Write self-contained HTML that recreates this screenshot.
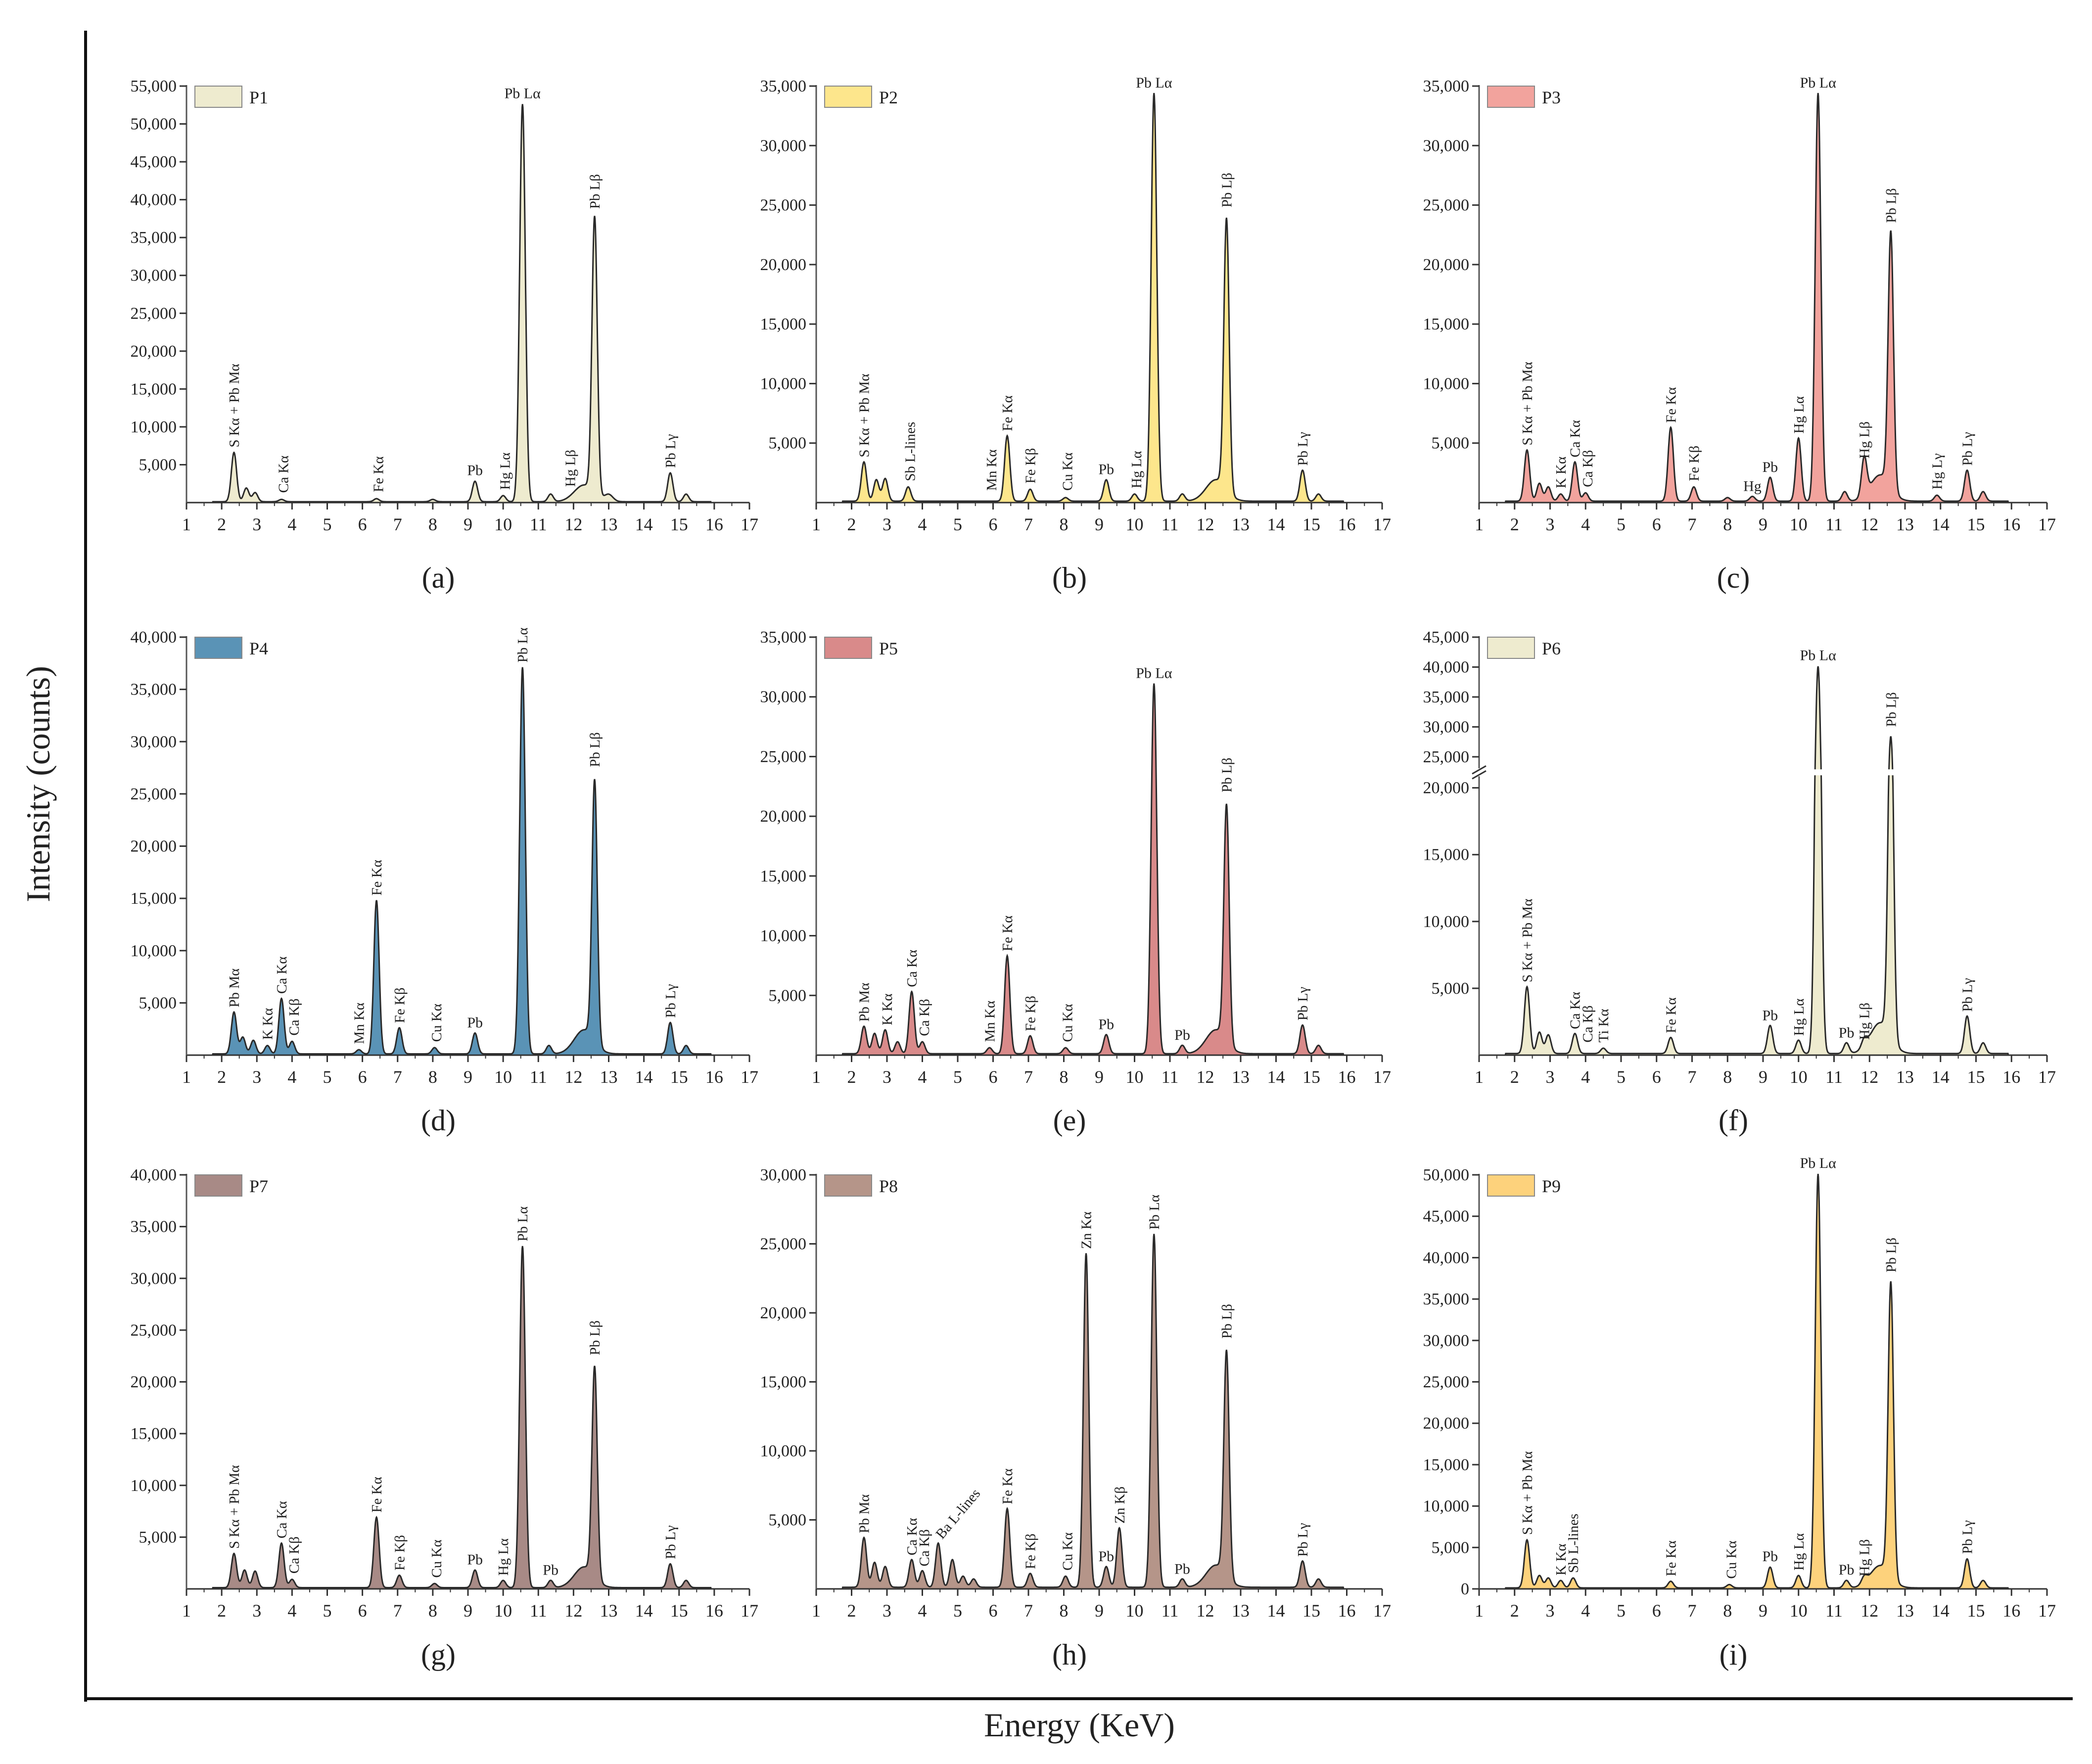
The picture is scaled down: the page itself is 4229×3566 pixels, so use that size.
<!DOCTYPE html>
<html><head><meta charset="utf-8"><style>
html,body{margin:0;padding:0;background:#fff}
svg{display:block}
text{font-family:"Liberation Serif","DejaVu Serif",serif;fill:#222}
</style></head><body>
<svg id="fig" width="4229" height="3566" viewBox="0 0 4229 3566" xmlns="http://www.w3.org/2000/svg" font-family="Liberation Serif, serif">
<rect width="4229" height="3566" fill="#fff"/>
<line x1="173" y1="62" x2="173" y2="3440" stroke="#111" stroke-width="6"/>
<line x1="170" y1="3434" x2="4190" y2="3434" stroke="#111" stroke-width="6"/>
<text transform="translate(100,1585) rotate(-90)" text-anchor="middle" font-size="68" font-family="Liberation Serif, serif">Intensity (counts)</text>
<text x="2182" y="3510" text-anchor="middle" font-size="68" font-family="Liberation Serif, serif">Energy (KeV)</text>
<g id="panels" font-family="Liberation Serif, serif"></g>
</svg>
<script>
// peaks: [energy keV, counts, optional sigma]
const peaksP1=[[2.35,6500],[2.7,1800],[2.95,1200],[3.7,300],[6.4,400],[8.0,300],[9.2,2700],[10.0,800],[10.55,52500,0.08],[11.35,1000],[12.3,2200,0.28],[12.6,36500],[13.0,900,0.12],[14.75,3800],[15.2,1000]];
const peaksP2=[[2.35,3300],[2.7,1800],[2.95,1900],[3.6,1200],[6.4,5500],[7.05,1000],[8.05,300],[9.2,1800],[10.0,600],[10.55,34300,0.08],[11.35,600],[12.3,1800,0.28],[12.6,22800],[14.75,2600],[15.2,600]];
const peaksP3=[[2.35,4300],[2.7,1500],[2.95,1200],[3.3,600],[3.7,3300],[4.0,700],[6.4,6200],[7.05,1200],[8.0,300],[8.7,400],[9.2,2000],[10.0,5300],[10.55,34300,0.08],[11.3,800],[11.85,3200],[12.3,2200,0.28],[12.6,21500],[13.9,500],[14.75,2600],[15.2,800]];
const peaksP4=[[2.35,4000],[2.6,1600],[2.9,1300],[3.3,800],[3.7,5300],[4.0,1200],[5.9,400],[6.4,14700],[7.05,2500],[8.05,600],[9.2,2000],[10.55,37000,0.08],[11.3,800],[12.3,2300,0.28],[12.6,25000],[14.75,3000],[15.2,800]];
const peaksP5=[[2.35,2300],[2.65,1700],[2.95,2000],[3.3,1000],[3.7,5200],[4.0,1000],[5.9,500],[6.4,8200],[7.05,1500],[8.05,500],[9.2,1600],[10.55,31000,0.08],[11.35,700],[12.3,2000,0.28],[12.6,19800],[14.75,2400],[15.2,700]];
const peaksP6=[[2.35,5000],[2.7,1600],[2.95,1400],[3.7,1500],[4.5,400],[6.4,1200],[9.2,2100],[10.0,1000],[10.55,40000,0.08],[11.35,800],[11.85,600],[12.3,2300,0.28],[12.6,27000],[14.75,2800],[15.2,800]];
const peaksP7=[[2.35,3300],[2.65,1700],[2.95,1600],[3.7,4300],[4.0,800],[6.4,6800],[7.05,1200],[8.05,400],[9.2,1700],[10.0,700],[10.55,33000,0.08],[11.35,700],[12.3,2000,0.28],[12.6,20300],[14.75,2300],[15.2,700]];
const peaksP8=[[2.35,3600],[2.65,1800],[2.95,1500],[3.7,2000],[4.0,1200],[4.45,3200],[4.85,2000],[5.15,800],[5.45,600],[6.4,5700],[7.05,1000],[8.05,800],[8.63,24200],[9.2,1500],[9.57,4300],[10.55,25600,0.08],[11.35,600],[12.3,1600,0.28],[12.6,16300],[14.75,1900],[15.2,600]];
const peaksP9=[[2.35,5800],[2.7,1500],[2.95,1200],[3.3,900],[3.65,1200],[6.4,800],[8.05,400],[9.2,2500],[10.0,1500],[10.55,50000,0.08],[11.35,900],[11.85,800],[12.3,2700,0.28],[12.6,35500],[14.75,3500],[15.2,900]];
// labels: [text, energy, counts at anchor, mode r=rotated h=horizontal d=diagonal]
const labelsP1=[["S Kα + Pb Mα",2.35,6500,"r"],["Ca Kα",3.75,500,"r"],["Fe Kα",6.45,600,"r"],["Pb",9.2,2700,"h"],["Hg Lα",10.05,900,"r"],["Pb Lα",10.55,52500,"h"],["Hg Lβ",11.9,1300,"r"],["Pb Lβ",12.6,38000,"r"],["Pb Lγ",14.75,3800,"r"]];
const labelsP2=[["S Kα + Pb Mα",2.35,3300,"r"],["Sb L-lines",3.65,1300,"r"],["Mn Kα",5.95,500,"r"],["Fe Kα",6.4,5500,"r"],["Fe Kβ",7.05,1100,"r"],["Cu Kα",8.1,500,"r"],["Pb",9.2,1800,"h"],["Hg Lα",10.05,700,"r"],["Pb Lα",10.55,34300,"h"],["Pb Lβ",12.6,24300,"r"],["Pb Lγ",14.75,2600,"r"]];
const labelsP3=[["S Kα + Pb Mα",2.35,4300,"r"],["K Kα",3.3,700,"r"],["Ca Kα",3.7,3300,"r"],["Ca Kβ",4.05,800,"r"],["Fe Kα",6.4,6200,"r"],["Fe Kβ",7.05,1300,"r"],["Hg",8.7,400,"h"],["Pb",9.2,2000,"h"],["Hg Lα",10.0,5300,"r"],["Pb Lα",10.55,34300,"h"],["Hg Lβ",11.85,3200,"r"],["Pb Lβ",12.6,23000,"r"],["Hg Lγ",13.9,600,"r"],["Pb Lγ",14.75,2600,"r"]];
const labelsP4=[["Pb Mα",2.35,4000,"r"],["K Kα",3.3,900,"r"],["Ca Kα",3.7,5300,"r"],["Ca Kβ",4.05,1300,"r"],["Mn Kα",5.9,500,"r"],["Fe Kα",6.4,14700,"r"],["Fe Kβ",7.05,2500,"r"],["Cu Kα",8.1,700,"r"],["Pb",9.2,2000,"h"],["Pb Lα",10.55,37000,"r"],["Pb Lβ",12.6,27000,"r"],["Pb Lγ",14.75,3000,"r"]];
const labelsP5=[["Pb Mα",2.35,2300,"r"],["K Kα",3.0,2000,"r"],["Ca Kα",3.7,5200,"r"],["Ca Kβ",4.05,1100,"r"],["Mn Kα",5.9,600,"r"],["Fe Kα",6.4,8200,"r"],["Fe Kβ",7.05,1500,"r"],["Cu Kα",8.1,600,"r"],["Pb",9.2,1600,"h"],["Pb Lα",10.55,31000,"h"],["Pb",11.35,700,"h"],["Pb Lβ",12.6,21500,"r"],["Pb Lγ",14.75,2400,"r"]];
const labelsP6=[["S Kα + Pb Mα",2.35,5000,"r"],["Ca Kα",3.7,1500,"r"],["Ca Kβ",4.05,500,"r"],["Ti Kα",4.5,500,"r"],["Fe Kα",6.4,1200,"r"],["Pb",9.2,2100,"h"],["Hg Lα",10.0,1000,"r"],["Pb Lα",10.55,40000,"h"],["Pb",11.35,800,"h"],["Hg Lβ",11.85,700,"r"],["Pb Lβ",12.6,29000,"r"],["Pb Lγ",14.75,2800,"r"]];
const labelsP7=[["S Kα + Pb Mα",2.35,3300,"r"],["Ca Kα",3.7,4300,"r"],["Ca Kβ",4.05,900,"r"],["Fe Kα",6.4,6800,"r"],["Fe Kβ",7.05,1200,"r"],["Cu Kα",8.1,500,"r"],["Pb",9.2,1700,"h"],["Hg Lα",10.0,700,"r"],["Pb Lα",10.55,33000,"r"],["Pb",11.35,700,"h"],["Pb Lβ",12.6,22000,"r"],["Pb Lγ",14.75,2300,"r"]];
const labelsP8=[["Pb Mα",2.35,3600,"r"],["Ca Kα",3.7,2000,"r"],["Ca Kβ",4.05,1200,"r"],["Ba L-lines",4.45,3200,"d"],["Fe Kα",6.4,5700,"r"],["Fe Kβ",7.05,1000,"r"],["Cu Kα",8.1,900,"r"],["Zn Kα",8.63,24200,"r"],["Pb",9.2,1500,"h"],["Zn Kβ",9.57,4300,"r"],["Pb Lα",10.55,25600,"r"],["Pb",11.35,600,"h"],["Pb Lβ",12.6,17700,"r"],["Pb Lγ",14.75,1900,"r"]];
const labelsP9=[["S Kα + Pb Mα",2.35,5800,"r"],["K Kα",3.3,900,"r"],["Sb L-lines",3.65,1200,"r"],["Fe Kα",6.4,800,"r"],["Cu Kα",8.1,500,"r"],["Pb",9.2,2500,"h"],["Hg Lα",10.0,1500,"r"],["Pb Lα",10.55,50000,"h"],["Pb",11.35,900,"h"],["Hg Lβ",11.85,800,"r"],["Pb Lβ",12.6,37500,"r"],["Pb Lγ",14.75,3500,"r"]];
const xTicks=[1,2,3,4,5,6,7,8,9,10,11,12,13,14,15,16,17];
const yTicksP1=[5000,10000,15000,20000,25000,30000,35000,40000,45000,50000,55000];
const yTicks35=[5000,10000,15000,20000,25000,30000,35000];
const yTicks40=[5000,10000,15000,20000,25000,30000,35000,40000];
const yTicks30=[5000,10000,15000,20000,25000,30000];
const yTicksP6=[5000,10000,15000,20000,25000,30000,35000,40000,45000];
const yTicksP9=[0,5000,10000,15000,20000,25000,30000,35000,40000,45000,50000];

const cols=[[377,1515],[1650,2794],[2990,4138]];
const rows=[[1016,174],[2133,1288],[3212,2375]];
const letterY=[1188,2285,3365];
const panels=[
 {id:"P1",letter:"(a)",c:0,r:0,max:55000,ticks:yTicksP1,peaks:peaksP1,labels:labelsP1,fill:"#eeebcf"},
 {id:"P2",letter:"(b)",c:1,r:0,max:35000,ticks:yTicks35,peaks:peaksP2,labels:labelsP2,fill:"#fde68c"},
 {id:"P3",letter:"(c)",c:2,r:0,max:35000,ticks:yTicks35,peaks:peaksP3,labels:labelsP3,fill:"#f2a39d"},
 {id:"P4",letter:"(d)",c:0,r:1,max:40000,ticks:yTicks40,peaks:peaksP4,labels:labelsP4,fill:"#5a93b6"},
 {id:"P5",letter:"(e)",c:1,r:1,max:35000,ticks:yTicks35,peaks:peaksP5,labels:labelsP5,fill:"#d98a8a"},
 {id:"P6",letter:"(f)",c:2,r:1,max:45000,ticks:yTicksP6,peaks:peaksP6,labels:labelsP6,fill:"#eeebcf",broken:true},
 {id:"P7",letter:"(g)",c:0,r:2,max:40000,ticks:yTicks40,peaks:peaksP7,labels:labelsP7,fill:"#a88a86"},
 {id:"P8",letter:"(h)",c:1,r:2,max:30000,ticks:yTicks30,peaks:peaksP8,labels:labelsP8,fill:"#b59589"},
 {id:"P9",letter:"(i)",c:2,r:2,max:50000,ticks:yTicksP9,peaks:peaksP9,labels:labelsP9,fill:"#fdd27c"}
];
const NS="http://www.w3.org/2000/svg";
const root=document.getElementById("panels");
function mk(tag,attrs,parent){const e=document.createElementNS(NS,tag);for(const k in attrs)e.setAttribute(k,attrs[k]);parent.appendChild(e);return e;}
function fmt(v){return v.toLocaleString("en-US");}
panels.forEach(p=>{
 const [x0,x1]=cols[p.c];const [yb,yt]=rows[p.r];
 const X=e=>x0+(e-1)/16*(x1-x0);
 let Y;
 if(p.broken){
  const yBreakLo=yb-(yb-yt)*0.6395,yBreakHi=yb-(yb-yt)*0.7137;
  Y=v=>v<=20000?yb-v/20000*(yb-yBreakLo):(v<=25000?yBreakLo-(v-20000)/5000*(yBreakLo-yBreakHi):yBreakHi-(v-25000)/20000*(yBreakHi-yt));
 } else Y=v=>yb-v/p.max*(yb-yt);
 const g=mk("g",{},root);
 
 
 let pts=[];
 for(let e=1.6;e<=16.0001;e+=0.01){
  let v=(e>1.75&&e<15.9)?120:0;
  p.peaks.forEach(pk=>{const s=pk[2]||0.075;v+=pk[1]*Math.exp(-((e-pk[0])**2)/(2*s*s));});
  pts.push([X(e),Y(v)]);
 }
 const d="M"+pts.map(q=>q[0].toFixed(1)+","+q[1].toFixed(1)).join("L");
 const area=mk("path",{d:d+"L"+X(16).toFixed(1)+","+yb+"L"+X(1.6).toFixed(1)+","+yb+"Z",fill:p.fill,stroke:"none"},g);
 
 
 const line=mk("path",{d:d,fill:"none",stroke:"#2a2a2a","stroke-width":3},g);
 
 
 if(p.broken){
  const yl=Y(20000),yh=Y(25000);
  const gap=mk("rect",{x:x0+3,y:(yl+yh)/2-6,width:x1-x0,height:12,fill:"#fff"},g);
  
  
 }
 const xa=mk("line",{x1:x0,y1:yb,x2:x1,y2:yb,stroke:"#333","stroke-width":3},g);
 
 
 const ya=mk("line",{x1:x0,y1:yb,x2:x0,y2:yt-2,stroke:"#555","stroke-width":3},g);
 
 
 if(p.broken){
  const yl=Y(20000),yh=Y(25000),ym=(yl+yh)/2;
  mk("rect",{x:x0-8,y:ym-8,width:16,height:16,fill:"#fff"},g);
  [-5,5].forEach(o=>{const bm=mk("line",{x1:x0-14,y1:ym+o+8,x2:x0+14,y2:ym+o-8,stroke:"#333","stroke-width":3},g);
   
   });
 }
 xTicks.forEach(t=>{
  mk("line",{x1:X(t),y1:yb,x2:X(t),y2:yb+14,stroke:"#333","stroke-width":3},g);
  if(t<17) mk("line",{x1:X(t+0.5),y1:yb,x2:X(t+0.5),y2:yb+7,stroke:"#333","stroke-width":2},g);
  const tl=mk("text",{x:X(t),y:yb+56,"text-anchor":"middle","font-size":36,"font-family":"Liberation Serif, serif"},g);
  tl.textContent=t;
  
  
 });
 p.ticks.forEach(t=>{
  mk("line",{x1:x0-14,y1:Y(t),x2:x0,y2:Y(t),stroke:"#333","stroke-width":3},g);
  const tl=mk("text",{x:x0-20,y:Y(t)+11,"text-anchor":"end","font-size":34,"font-family":"Liberation Serif, serif"},g);
  tl.textContent=fmt(t);
  
  
 });
 const lb=mk("rect",{x:x0+17,y:yt,width:95,height:43,fill:p.fill,stroke:"#888","stroke-width":2},g);
 
 
 const lt=mk("text",{x:x0+127,y:yt+35,"font-size":36,"font-family":"Liberation Serif, serif"},g);
 lt.textContent=p.id;
 
 
 const pl=mk("text",{x:(x0+x1)/2-60,y:letterY[p.r],"text-anchor":"middle","font-size":60,"font-family":"Liberation Serif, serif"},g);
 pl.textContent=p.letter;
 
 
 p.labels.forEach(l=>{
  const lx=X(l[1]),ly=Y(l[2]);let t;
  if(l[3]==="h"){t=mk("text",{x:lx,y:ly-14,"text-anchor":"middle","font-size":30,"font-family":"Liberation Serif, serif"},g);}
  else if(l[3]==="d"){t=mk("text",{transform:`translate(${lx+8},${ly-10}) rotate(-50)`,"font-size":29,"font-family":"Liberation Serif, serif"},g);}
  else{t=mk("text",{transform:`translate(${lx+10},${ly-12}) rotate(-90)`,"font-size":29,"font-family":"Liberation Serif, serif"},g);}
  t.textContent=l[0];
  
  
 });
});
</script>
</body></html>
